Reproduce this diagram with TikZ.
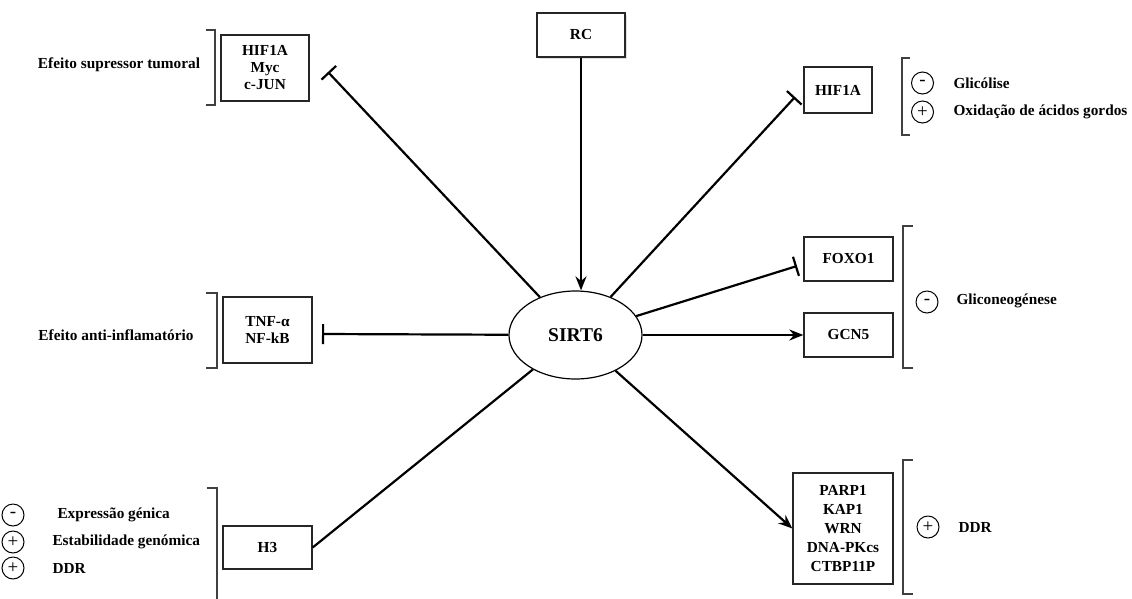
\documentclass[tikz,border=0pt]{standalone}
\usepackage{fontspec}
\setmainfont{Liberation Serif}
\usetikzlibrary{arrows.meta,shapes.geometric,shadows}

\begin{document}
\begin{tikzpicture}[x=1pt,y=-1pt,
  every node/.style={font=\bfseries\fontsize{15.3}{17}\selectfont},
  box/.style={draw=black!85, line width=1.3pt, inner sep=0pt, align=center},
  wire/.style={line width=2.2pt},
  act/.style={wire, -{Stealth[length=14pt,width=11pt]}},
  inh/.style={wire, -{Bar[width=20pt,line width=2.2pt]}},
  brk/.style={draw=black!75, line width=1.5pt},
  sign/.style={circle, draw, line width=1pt, minimum size=22pt, inner sep=0pt,
    font=\mdseries\fontsize{19}{19}\selectfont},
  lbl/.style={anchor=west}]

\useasboundingbox (0,0) rectangle (1132,598);

% central enzyme
\node[draw, line width=1.2pt, ellipse, minimum width=133pt, minimum height=88pt, inner sep=0pt,
  font=\bfseries\fontsize{19.5}{20}\selectfont] (sirt) at (575.5,335) {SIRT6};

% partner boxes
\node[box, minimum width=88pt, minimum height=44pt,
  drop shadow={shadow xshift=2pt, shadow yshift=-2pt, fill=black!25}, fill=white] (rc) at (581,35) {RC};
\node[box, minimum width=88pt, minimum height=66pt] (tl) at (265,68) {HIF1A\\Myc\\c-JUN};
\node[box, minimum width=68pt, minimum height=46pt] (hr) at (838,90) {HIF1A};
\node[box, minimum width=89pt, minimum height=44pt] (foxo) at (848.5,259) {FOXO1};
\node[box, minimum width=89pt, minimum height=44pt] (gcn) at (848.5,335) {GCN5};
\node[box, minimum width=89pt, minimum height=66pt] (tnf) at (267.5,330) {TNF-α\\NF-kB};
\node[box, minimum width=89pt, minimum height=43pt] (h3) at (267.5,547.5) {H3};
\node[box, minimum width=100pt, minimum height=111pt,
  font=\bfseries\fontsize{15.3}{19}\selectfont] (parp) at (843,528.5) {PARP1\\KAP1\\WRN\\DNA-PKcs\\CTBP11P};

% inhibition bar ends
\coordinate (tTL) at (328,72);
\coordinate (tHR) at (795,97);
\coordinate (tFX) at (797,266);
\coordinate (tTN) at (322,334);

% connectors
\draw[act] (rc.south) -- (rc.south |- sirt.north);
\draw[inh] (sirt) -- (tTL);
\draw[inh] (sirt) -- (tHR);
\draw[inh] (sirt) -- (tFX);
\draw[act] (sirt) -- (gcn);
\draw[inh] (sirt) -- (tTN);
\draw[wire] (sirt) -- (h3.east);
\draw[act] (sirt) -- (parp.west);

% brackets
\draw[brk] (206,30) -- (215,30) -- (215,105) -- (206,105);
\draw[brk] (206,293) -- (217,293) -- (217,368) -- (206,368);
\draw[brk] (207,488) -- (217,488) -- (217,600);
\draw[brk] (910,58) -- (902,58) -- (902,135) -- (910,135);
\draw[brk] (913,226) -- (903,226) -- (903,368) -- (913,368);
\draw[brk] (913,460) -- (903,460) -- (903,594) -- (913,594);

% effect labels, left
\node (lTL) at (119,65) {Efeito supressor tumoral};
\node (lTN) at (116,335) {Efeito anti-inflamatório};
\node[sign] (s1) at (13,515) {-};
\node[sign] (s2) at (13,542) {+};
\node[sign] (s3) at (13,568) {+};
\node[lbl] (e1) at (54,515) {Expressão génica};
\node[lbl] (e2) at (49,542) {Estabilidade genómica};
\node[lbl] (e3) at (49,568) {DDR};

% effect labels, right
\node[sign] (s4) at (922.5,83) {-};
\node[sign] (s5) at (922.5,112) {+};
\node[lbl] (e4) at (950,83) {Glicólise};
\node[lbl] (e5) at (950,112) {Oxidação de ácidos gordos};
\node[sign] (s6) at (927,302) {-};
\node[lbl] (e6) at (953,301) {Gliconeogénese};
\node[sign] (s7) at (928,527) {+};
\node[lbl] (e7) at (955,527) {DDR};
\end{tikzpicture}
\end{document}
